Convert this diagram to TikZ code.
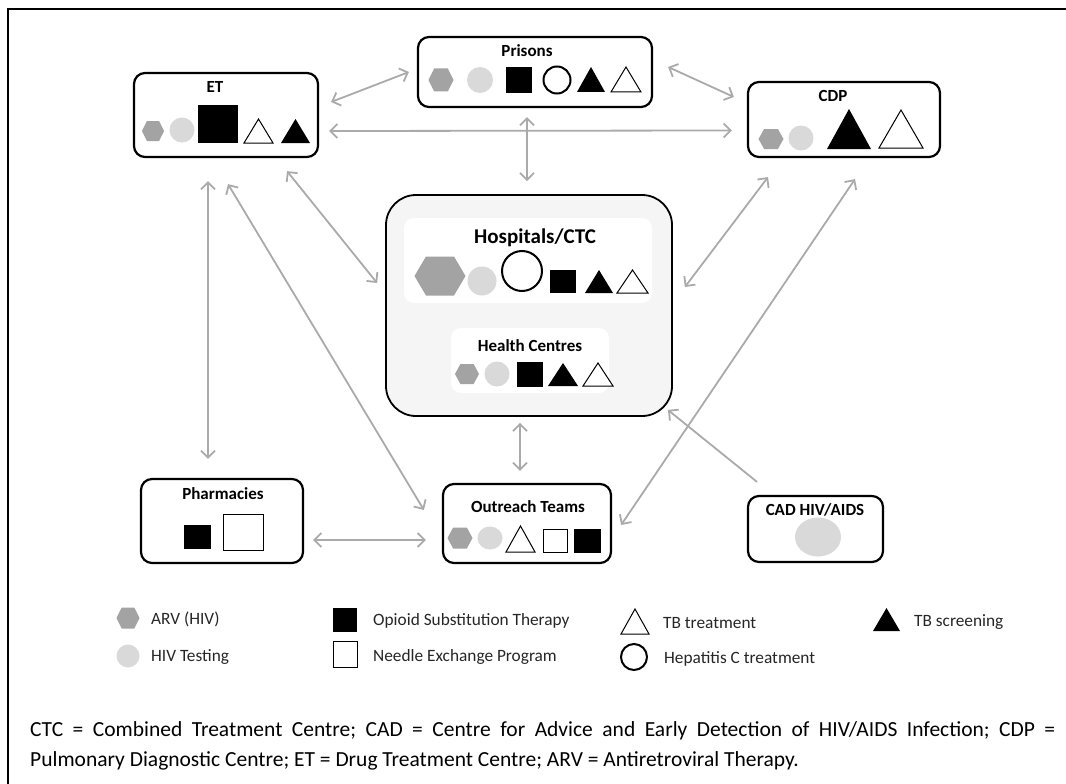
\documentclass[tikz,border=0pt]{standalone}
\usepackage{fontspec}
\setmainfont{Carlito}
\usetikzlibrary{arrows.meta,calc,shapes.geometric}
\definecolor{arrgray}{HTML}{AAAAAA}
\definecolor{hexgray}{HTML}{A3A3A3}
\definecolor{circgray}{HTML}{D9D9D9}
\definecolor{panel}{HTML}{F5F5F5}
\definecolor{legtext}{HTML}{262626}
\tikzset{
  box/.style={draw=black, line width=2.2pt, rounded corners=11pt, fill=white, inner sep=0pt},
  title/.style={font=\bfseries\fontsize{17}{19}\selectfont, inner sep=0pt},
  legend/.style={font=\fontsize{17.3}{19}\selectfont, text=legtext, anchor=west, inner sep=0pt},
  arr/.style={draw=arrgray, line width=1.8pt, {Straight Barb[length=7pt,width=14pt]}-{Straight Barb[length=7pt,width=14pt]}},
  arrone/.style={draw=arrgray, line width=1.8pt, -{Straight Barb[length=7pt,width=14pt]}},
  hexs/.style={fill=hexgray},
  dots/.style={fill=circgray},
  blk/.style={fill=black},
  opn/.style={draw=black, line width=1pt, fill=white},
  ring/.style={draw=black, line width=2pt, fill=white},
}
% hexagon: centre x, centre y, half width, half height
\newcommand\Hexa[4]{\fill[hexs] ({#1-#3},#2) -- ({#1-0.55*#3},{#2-#4}) -- ({#1+0.55*#3},{#2-#4}) -- ({#1+#3},#2) -- ({#1+0.55*#3},{#2+#4}) -- ({#1-0.55*#3},{#2+#4}) -- cycle;}
% triangle: style, x left, x right, y top, y bottom
\newcommand\Tri[5]{\path[#1] (#2,#5) -- (#3,#5) -- ({(#2+#3)/2},#4) -- cycle;}
% rectangle: style, x0, y0, x1, y1
\newcommand\Sq[5]{\path[#1] (#2,#3) rectangle (#4,#5);}
\frenchspacing
\begin{document}
\begin{tikzpicture}[x=1pt,y=-1pt]
\useasboundingbox (0,0) rectangle (1066,784);
% outer frame
\draw[line width=2.5pt] (8,784) -- (8,9) -- (1066,9);

% ---------- boxes ----------
\node[box, minimum width=184pt, minimum height=84pt] (et) at (226,115) {};
\node[box, minimum width=234pt, minimum height=70pt] (pris) at (535,72) {};
\node[box, minimum width=192pt, minimum height=75pt] (cdp) at (844,119.5) {};
\node[draw=black, line width=1.8pt, rounded corners=30pt, fill=panel, minimum width=286pt, minimum height=221pt, inner sep=0pt] (hosp) at (529,305.5) {};
\node[fill=white, rounded corners=10pt, minimum width=248pt, minimum height=85pt, inner sep=0pt] (hospin) at (528,260.5) {};
\node[fill=white, rounded corners=10pt, minimum width=158pt, minimum height=65pt, inner sep=0pt] (hcin) at (530,360.5) {};
\node[box, minimum width=162pt, minimum height=84pt] (pharm) at (222,521) {};
\node[box, minimum width=168pt, minimum height=79pt] (outr) at (527,523.5) {};
\node[box, minimum width=135pt, minimum height=66pt] (cad) at (815.5,529) {};

% ---------- titles ----------
\node[title] (tet) at (215,87) {ET};
\node[title] (tpris) at (527,51) {Prisons};
\node[title] (tcdp) at (833,96) {CDP};
\node[title, font=\bfseries\fontsize{21}{23}\selectfont] (thosp) at (535,238) {Hospitals/CTC};
\node[title] (thc) at (530,346) {Health Centres};
\node[title] (tpharm) at (223,494) {Pharmacies};
\node[title] (toutr) at (528,507) {Outreach Teams};
\node[title] (tcad) at (815,510) {CAD HIV/AIDS};

% ---------- ET symbols ----------
\Hexa{153}{131}{11}{10}
\fill[dots] (182,130) circle[radius=12.5];
\Sq{blk}{198}{105}{238}{143}
\Tri{opn}{244}{273}{119}{143}
\Tri{blk}{281}{310}{119}{143}

% ---------- Prisons symbols ----------
\Hexa{441}{80}{12.5}{11.5}
\fill[dots] (480,80) circle[radius=13];
\Sq{blk}{506}{67}{532}{93}
\path[ring] (557,80) circle[radius=13.5];
\Tri{blk}{577}{605}{67}{92}
\Tri{opn}{611}{641}{67}{92}

% ---------- CDP symbols ----------
\Hexa{771}{139}{12.5}{10}
\fill[dots] (801,138) circle[radius=12.5];
\Tri{blk}{827}{871}{109}{149}
\Tri{opn}{879}{923}{110}{148}

% ---------- Hospitals/CTC symbols ----------
\Hexa{440}{276}{25.5}{19.5}
\fill[dots] (482,281) circle[radius=14.5];
\path[ring] (522,271) circle[radius=20];
\Sq{blk}{550}{270}{576}{293}
\Tri{blk}{585}{613}{270}{293}
\Tri{opn}{617}{648}{270}{293}

% ---------- Health Centres symbols ----------
\Hexa{467}{374}{12}{10}
\fill[dots] (497,374) circle[radius=12.5];
\Sq{blk}{517}{362}{543}{387}
\Tri{blk}{548}{578}{363}{386}
\Tri{opn}{583}{613}{363}{386}

% ---------- Pharmacies symbols ----------
\Sq{blk}{184}{525}{211}{549}
\Sq{opn}{223}{514}{263}{550}

% ---------- Outreach symbols ----------
\Hexa{460}{538}{12.5}{10.5}
\fill[dots] (490,538) ellipse[x radius=12.5, y radius=11.5];
\Tri{opn}{506}{535}{526}{552}
\Sq{opn}{543}{529}{567}{552}
\Sq{blk}{574}{529}{601}{553}

% ---------- CAD symbol ----------
\fill[dots] (818,537) ellipse[x radius=23, y radius=19.5];

% ---------- connectors ----------
\draw[arr] ($(et.east)+(12,-13)$) -- ($(pris.west)+(-8,0)$);
\draw[arr] ($(et.east)+(10,16)$) -- ($(cdp.west)+(-15,11)$);
\draw[arr] ($(pris.south)+(-8,9)$) -- ($(hosp.north)+(-2,-13)$);
\draw[arr] ($(pris.east)+(15,-5)$) -- ($(cdp.west)+(-13,-22.5)$);
\draw[arr] ($(et.south)+(-18,23)$) -- ($(pharm.north)+(-14,-19)$);
\draw[arr] ($(et.south)+(2,26)$) -- ($(outr.west)+(-18,-13.5)$);
\draw[arr] ($(et.south)+(61,13)$) -- ($(hosp.west)+(-8,-22.5)$);
\draw[arr] ($(cdp.south)+(-76,19)$) -- ($(hosp.east)+(12,-18.5)$);
\draw[arr] ($(cdp.south)+(11,21)$) -- ($(outr.east)+(9,1.5)$);
\draw[arr] ($(hosp.south)+(-9,6)$) -- ($(outr.north)+(-7,-12)$);
\draw[arr] ($(pharm.east)+(9,19)$) -- ($(outr.west)+(-16,16.5)$);
\draw[arrone] ($(cad.north)+(-58.5,-13)$) -- ($(hosp.south east)+(-5,-7)$);

% ---------- legend ----------
\Hexa{128}{618}{11.5}{10.5}
\node[legend] (l1) at (151,619) {ARV (HIV)};
\fill[dots] (128,656) circle[radius=11.5];
\node[legend] (l2) at (151,657) {HIV Testing};
\Sq{blk}{333}{608}{357}{632}
\node[legend] (l3) at (373,621) {Opioid Substitution Therapy};
\Sq{opn}{333}{641}{357}{667}
\node[legend] (l4) at (373,657) {Needle Exchange Program};
\Tri{opn}{621}{649}{609}{634}
\node[legend] (l5) at (663,623) {TB treatment};
\path[ring] (634,657) circle[radius=13];
\node[legend] (l6) at (664,659) {Hepatitis C treatment};
\Tri{blk}{873}{900}{608}{631}
\node[legend] (l7) at (914,622) {TB screening};

% ---------- footnote ----------
\node[anchor=base west, inner sep=0pt, text width=1025pt, align=justify, font=\fontsize{21.5}{30}\selectfont] (foot) at (30,736)
{CTC = Combined Treatment Centre; CAD = Centre for Advice and Early Detection of HIV/AIDS Infection; CDP =\linebreak Pulmonary Diagnostic Centre; ET = Drug Treatment Centre; ARV = Antiretroviral Therapy.};
\end{tikzpicture}
\end{document}
